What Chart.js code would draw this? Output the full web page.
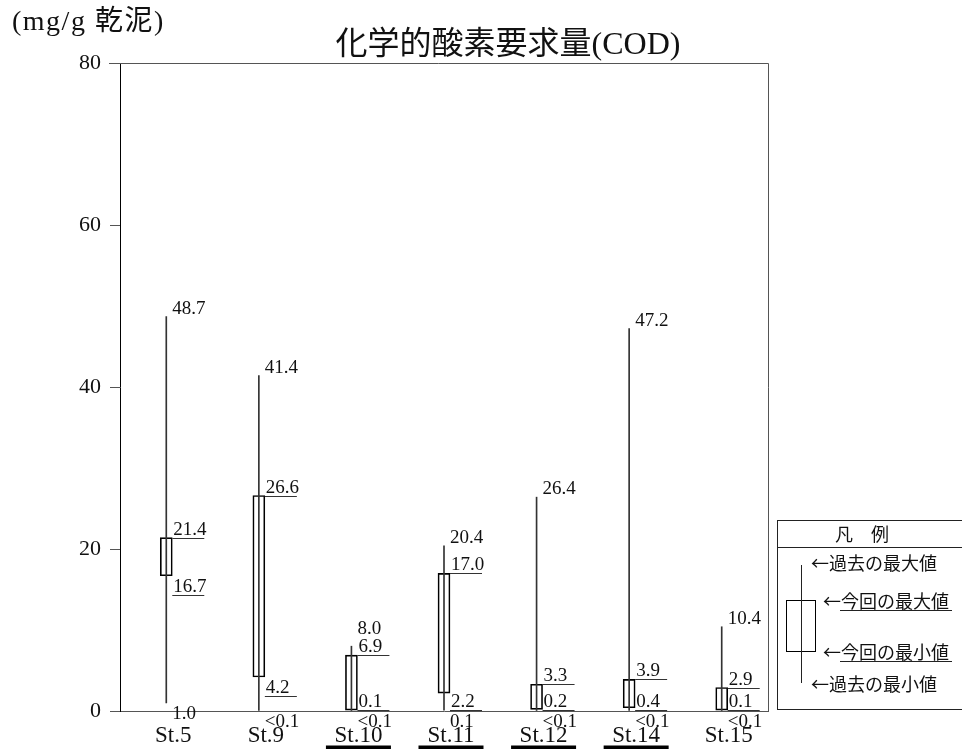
<!DOCTYPE html>
<html>
<head>
<meta charset="utf-8">
<script src="https://cdn.jsdelivr.net/npm/chart.js@4.4.1/dist/chart.umd.min.js"></script>
<style>
html,body{margin:0;padding:0;background:#fff;}
#wrap{width:962px;height:749px;position:relative;}
</style>
</head>
<body>
<div id="wrap"><canvas id="c" width="962" height="749"></canvas></div>
<script>
const categories = ['St.5','St.9','St.10','St.11','St.12','St.14','St.15'];
const pastMax = [48.7, 41.4, 8.0, 20.4, 26.4, 47.2, 10.4];
const pastMin = [1.0, 0, 0, 0.1, 0, 0, 0];
const pastMinLabels = ['1.0','<0.1','<0.1','0.1','<0.1','<0.1','<0.1'];
const curMax = [21.4, 26.6, 6.9, 17.0, 3.3, 3.9, 2.9];
const curMin = [16.7, 4.2, 0.1, 2.2, 0.2, 0.4, 0.1];
const underlinedStations = [false, false, true, true, true, true, false];
const yTicks = [0, 20, 40, 60, 80];
const chartTitle = '化学的酸素要求量(COD)';
const yTitle = '(mg/g 乾泥)';
const legendTitle = '凡　例';
const legendItems = ['←過去の最大値','←今回の最大値','←今回の最小値','←過去の最小値'];

const FONT = '"Liberation Serif","Noto Sans CJK JP",serif';
const JFONT = '"Noto Sans CJK JP","Liberation Serif",sans-serif';

const annot = {
  id: 'annot',
  afterDatasetsDraw(chart) {
    const ctx = chart.ctx;
    const ys = chart.scales.y;
    const ca = chart.chartArea;
    const boxMeta = chart.getDatasetMeta(0);
    const lineMeta = chart.getDatasetMeta(1);
    ctx.save();
    // top and right frame
    ctx.strokeStyle = '#555';
    ctx.lineWidth = 1;
    ctx.beginPath();
    ctx.moveTo(ca.left - 11, Math.round(ca.top) + 0.5);
    ctx.lineTo(Math.round(ca.right) + 0.5, Math.round(ca.top) + 0.5);
    ctx.lineTo(Math.round(ca.right) + 0.5, ca.bottom);
    ctx.stroke();

    ctx.fillStyle = '#111';
    ctx.font = '19px ' + FONT;
    ctx.textAlign = 'left';
    const y0 = ys.getPixelForValue(0);
    for (let i = 0; i < categories.length; i++) {
      const bar = boxMeta.data[i];
      const ln = lineMeta.data[i];
      const cx = ln.x;
      const boxRight = bar.x + bar.width / 2;
      const yTop = ys.getPixelForValue(curMax[i]);
      const yBot = ys.getPixelForValue(curMin[i]);
      const yPMax = ys.getPixelForValue(pastMax[i]);
      const yPMin = ys.getPixelForValue(pastMin[i]);
      // current max
      ctx.textBaseline = 'alphabetic';
      const maxBase = yTop - 3;
      ctx.fillText(curMax[i].toFixed(1), boxRight + 1, maxBase);
      ctx.strokeStyle = '#333';
      ctx.beginPath();
      ctx.moveTo(boxRight, Math.round(yTop) + 0.5);
      ctx.lineTo(boxRight + 32, Math.round(yTop) + 0.5);
      ctx.stroke();
      // current min
      const uy = Math.min(yBot + 19, y0 - 1);
      ctx.fillText(curMin[i].toFixed(1), boxRight + 1, uy - 3);
      ctx.beginPath();
      ctx.moveTo(boxRight, Math.round(uy) + 0.5);
      ctx.lineTo(boxRight + 32, Math.round(uy) + 0.5);
      ctx.stroke();
      // past max
      const pBase = Math.min(yPMax - 3, maxBase - 18);
      ctx.fillText(pastMax[i].toFixed(1), cx + 6, pBase);
      // past min
      ctx.textBaseline = 'top';
      ctx.fillText(pastMinLabels[i], cx + 6, yPMin + 2);
    }

    // underlines of station labels
    const xs = chart.scales.x;
    ctx.fillStyle = '#000';
    for (let i = 0; i < categories.length; i++) {
      if (underlinedStations[i]) {
        const c = xs.getPixelForValue(i) + 7;
        ctx.fillRect(c - 32.5, 745.5, 65, 4);
      }
    }

    // titles
    ctx.fillStyle = '#111';
    ctx.textBaseline = 'middle';
    ctx.textAlign = 'center';
    ctx.font = '32px ' + FONT;
    ctx.fillText(chartTitle, 508, 46);
    ctx.textAlign = 'left';
    ctx.font = '28px ' + FONT;
    ctx.letterSpacing = '1.5px';
    ctx.fillText(yTitle, 12, 23);
    ctx.letterSpacing = '0px';

    // legend
    ctx.strokeStyle = '#222';
    ctx.lineWidth = 1;
    ctx.strokeRect(777.5, 520.5, 200, 189);
    ctx.beginPath();
    ctx.moveTo(777, 547.5); ctx.lineTo(962, 547.5);
    ctx.stroke();
    ctx.font = '18px ' + JFONT;
    ctx.textAlign = 'center';
    ctx.fillText(legendTitle, 862, 534);
    ctx.beginPath();
    ctx.moveTo(801.5, 565); ctx.lineTo(801.5, 683);
    ctx.stroke();
    ctx.fillStyle = '#fff';
    ctx.fillRect(786, 600, 30, 52);
    ctx.strokeStyle = '#000';
    ctx.strokeRect(786.5, 600.5, 29, 51);
    ctx.strokeStyle = '#222';
    ctx.beginPath();
    ctx.moveTo(801.5, 600); ctx.lineTo(801.5, 652);
    ctx.stroke();
    ctx.fillStyle = '#111';
    ctx.textAlign = 'left';
    ctx.fillText(legendItems[0], 811, 563);
    ctx.fillText(legendItems[1], 823, 601);
    ctx.fillText(legendItems[2], 823, 652);
    ctx.fillText(legendItems[3], 811, 684);
    ctx.beginPath();
    ctx.moveTo(840, 610.5); ctx.lineTo(952, 610.5);
    ctx.moveTo(840, 661.5); ctx.lineTo(952, 661.5);
    ctx.stroke();
    ctx.restore();
  }
};

new Chart(document.getElementById('c'), {
  type: 'bar',
  data: {
    labels: categories,
    datasets: [
      {
        label: '今回',
        data: categories.map((_, i) => [curMin[i], curMax[i]]),
        backgroundColor: 'rgba(255,255,255,0)',
        borderColor: '#000',
        borderWidth: 1,
        borderSkipped: false,
        barThickness: 12,
        grouped: false,
        order: 2
      },
      {
        label: '過去',
        data: categories.map((_, i) => [pastMin[i], pastMax[i]]),
        backgroundColor: '#333',
        borderWidth: 0,
        barThickness: 1,
        grouped: false,
        order: 1
      }
    ]
  },
  options: {
    responsive: false,
    animation: false,
    layout: { padding: { top: 63, right: 194, left: 0, bottom: 0 } },
    plugins: { legend: { display: false }, tooltip: { enabled: false }, title: { display: false } },
    scales: {
      x: {
        offset: true,
        grid: { display: false, drawTicks: false },
        border: { display: true, color: '#555', width: 1 },
        ticks: { color: '#111', font: { family: FONT, size: 23 }, padding: 11, labelOffset: 7, maxRotation: 0, autoSkip: false },
        afterFit(s) { s.height = 38; }
      },
      y: {
        min: 0, max: 80,
        afterBuildTicks(s) { s.ticks = yTicks.map(v => ({ value: v })); },
        grid: { drawOnChartArea: false, drawTicks: true, tickLength: 10, color: '#555' },
        border: { display: true, color: '#000', width: 1 },
        ticks: { color: '#111', font: { family: FONT, size: 22 }, padding: 9 },
        afterFit(s) { s.width = 120; }
      }
    }
  },
  plugins: [annot]
});
</script>
</body>
</html>
